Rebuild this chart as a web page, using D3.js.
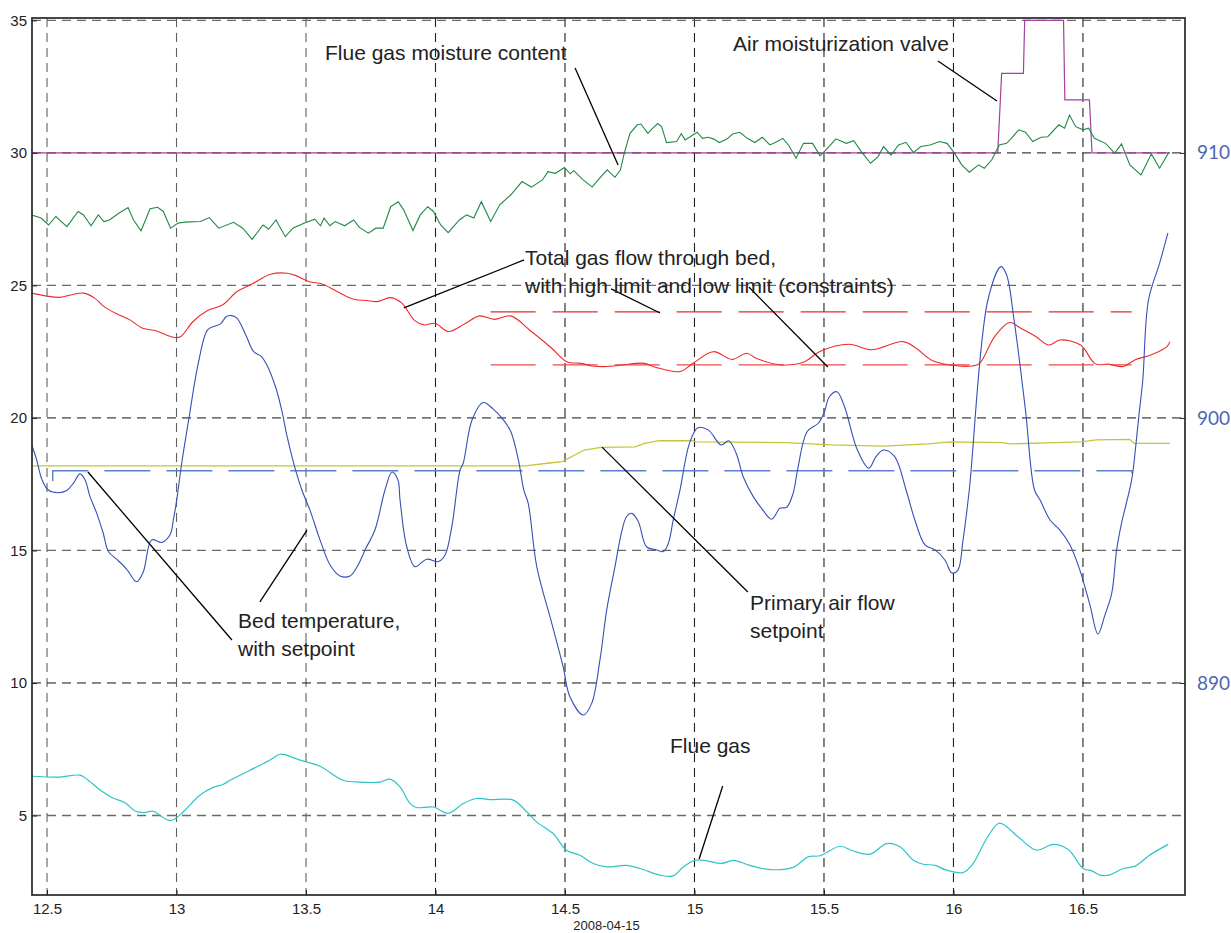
<!DOCTYPE html>
<html>
<head>
<meta charset="utf-8">
<script src="https://cdn.jsdelivr.net/npm/d3@7"></script>
<style>
  body { margin: 0; background: #fff; }
  svg { display: block; }
</style>
</head>
<body>
<div id="chart"></div>
<script>
// ---------------------------------------------------------------
// data (time in hours, 2008-04-15)
// ---------------------------------------------------------------
const xTicks = [12.5, 13, 13.5, 14, 14.5, 15, 15.5, 16, 16.5];
const leftTicks = [5, 10, 15, 20, 25, 30, 35];
const rightTicks = [890, 900, 910];
const dateLabel = "2008-04-15";

// flue gas moisture content (left axis)
const moistT = [12.441,12.477,12.506,12.534,12.577,12.620,12.641,12.670,12.698,12.720,12.741,12.777,12.813,12.834,12.863,12.898,12.927,12.949,12.977,13.006,13.034,13.092,13.127,13.163,13.220,13.256,13.292,13.334,13.356,13.384,13.420,13.449,13.492,13.534,13.556,13.570,13.592,13.613,13.649,13.684,13.706,13.741,13.770,13.798,13.827,13.856,13.877,13.913,13.941,13.970,13.992,14.020,14.049,14.092,14.120,14.148,14.177,14.213,14.248,14.291,14.334,14.370,14.413,14.434,14.463,14.498,14.520,14.534,14.570,14.605,14.634,14.663,14.693,14.714,14.729,14.751,14.779,14.793,14.820,14.837,14.858,14.873,14.892,14.931,14.949,14.964,14.988,15.010,15.031,15.053,15.075,15.096,15.125,15.147,15.175,15.204,15.233,15.262,15.291,15.312,15.341,15.363,15.392,15.421,15.456,15.485,15.514,15.546,15.586,15.615,15.644,15.680,15.709,15.730,15.759,15.788,15.817,15.845,15.874,15.910,15.946,15.975,16.004,16.032,16.061,16.097,16.119,16.148,16.177,16.205,16.227,16.252,16.278,16.306,16.338,16.364,16.407,16.429,16.448,16.472,16.501,16.522,16.544,16.587,16.623,16.649,16.681,16.724,16.764,16.796,16.832];
const moistV = [27.66,27.54,27.28,27.60,27.22,27.79,27.66,27.25,27.66,27.41,27.47,27.72,27.94,27.47,27.06,27.89,27.95,27.79,27.16,27.35,27.39,27.41,27.56,27.16,27.38,27.16,26.74,27.28,27.12,27.47,26.84,27.16,27.35,27.50,27.25,27.54,27.25,27.41,27.25,27.47,27.19,26.97,27.16,27.16,27.97,28.16,27.85,27.07,27.66,27.97,27.79,27.28,26.99,27.47,27.66,27.54,28.16,27.41,28.04,28.42,28.92,28.71,28.98,29.29,29.23,29.45,29.21,29.33,28.98,28.71,29.05,29.36,29.08,29.36,29.99,30.74,31.06,31.09,30.74,30.92,31.11,30.99,30.39,30.43,30.72,30.49,30.64,30.78,30.55,30.59,30.52,30.39,30.52,30.71,30.78,30.55,30.39,30.59,30.30,30.39,30.55,30.30,29.80,30.36,30.36,29.89,30.18,30.53,30.36,30.46,30.05,29.61,29.86,30.24,29.92,30.30,30.40,30.01,30.24,30.30,30.43,30.36,29.99,29.55,29.27,29.55,29.42,29.74,30.30,30.36,30.59,30.87,30.78,30.43,30.59,30.61,31.06,30.93,31.43,30.99,30.87,30.93,30.55,30.36,29.99,30.34,29.55,29.17,29.96,29.42,30.03];

// air moisturization valve (left axis, step signal)
const valveT = [12.441, 16.171, 16.186, 16.270, 16.275, 16.425, 16.430, 16.525, 16.535, 16.836];
const valveV = [30, 30, 33, 33, 35, 35, 32, 32, 30, 30];

// total gas flow through bed (left axis)
const flowT = [12.441,12.498,12.548,12.591,12.641,12.684,12.720,12.777,12.820,12.870,12.920,12.977,13.013,13.063,13.120,13.177,13.234,13.291,13.363,13.427,13.463,13.513,13.563,13.620,13.684,13.734,13.777,13.827,13.870,13.920,13.956,13.999,14.049,14.113,14.170,14.227,14.291,14.363,14.449,14.506,14.563,14.606,14.663,14.721,14.807,14.850,14.944,14.994,15.073,15.145,15.202,15.238,15.338,15.425,15.482,15.597,15.683,15.805,15.856,15.914,15.986,16.072,16.101,16.159,16.217,16.260,16.318,16.368,16.411,16.491,16.548,16.599,16.656,16.700,16.764,16.824,16.836];
const flowV = [24.71,24.60,24.55,24.64,24.71,24.52,24.20,23.89,23.70,23.38,23.29,23.07,23.05,23.63,24.05,24.26,24.77,25.05,25.42,25.46,25.36,25.14,25.05,24.77,24.48,24.43,24.39,24.54,24.33,23.67,23.51,23.57,23.26,23.55,23.85,23.72,23.85,23.32,22.63,22.12,22.06,21.96,21.94,22.00,22.06,21.91,21.75,22.06,22.50,22.21,22.44,22.25,22.00,22.12,22.50,22.78,22.57,22.88,22.63,22.19,22.00,21.96,22.06,23.07,23.60,23.38,23.07,22.75,22.94,22.75,22.04,22.03,21.94,22.19,22.38,22.69,22.88];

// constraints on total gas flow
const limitT = [14.213, 16.688];
const highLimit = 24;
const lowLimit = 22;

// primary air flow setpoint (left axis)
const airT = [12.441, 14.346, 14.432, 14.489, 14.575, 14.639, 14.771, 14.807, 14.864, 14.994, 15.009, 15.355, 15.527, 15.729, 15.902, 15.988, 16.190, 16.219, 16.392, 16.493, 16.551, 16.681, 16.698, 16.836];
const airV = [18.19, 18.19, 18.29, 18.35, 18.79, 18.89, 18.91, 19.04, 19.14, 19.14, 19.10, 19.07, 18.98, 18.94, 19.02, 19.10, 19.07, 19.02, 19.07, 19.10, 19.17, 19.19, 19.04, 19.04];

// bed temperature (right axis)
const bedT = [12.441,12.460,12.480,12.505,12.544,12.576,12.602,12.627,12.647,12.666,12.692,12.717,12.737,12.769,12.808,12.846,12.872,12.904,12.943,12.975,12.988,13.001,13.020,13.049,13.084,13.120,13.149,13.170,13.192,13.213,13.234,13.270,13.298,13.327,13.349,13.384,13.406,13.427,13.456,13.484,13.515,13.554,13.593,13.631,13.670,13.701,13.728,13.766,13.805,13.832,13.855,13.863,13.889,13.921,13.966,14.011,14.037,14.063,14.095,14.107,14.141,14.184,14.220,14.263,14.291,14.320,14.341,14.358,14.391,14.449,14.493,14.519,14.571,14.603,14.635,14.661,14.693,14.719,14.738,14.758,14.783,14.815,14.854,14.880,14.899,14.918,14.944,14.981,15.013,15.053,15.103,15.132,15.161,15.188,15.227,15.259,15.298,15.330,15.356,15.381,15.398,15.435,15.478,15.500,15.521,15.550,15.579,15.629,15.673,15.701,15.730,15.773,15.817,15.851,15.890,15.929,15.967,15.994,16.017,16.037,16.061,16.133,16.184,16.205,16.234,16.278,16.313,16.334,16.373,16.411,16.450,16.488,16.527,16.558,16.585,16.611,16.630,16.649,16.688,16.705,16.717,16.731,16.753,16.796,16.828];
const bedV = [898.98,898.42,897.69,897.28,897.18,897.26,897.54,897.89,897.66,897.03,896.40,895.65,894.96,894.67,894.29,893.82,894.20,895.40,895.30,895.59,896.16,896.92,898.29,900.05,902.06,903.32,903.47,903.55,903.82,903.86,903.76,903.07,902.50,902.32,902.00,901.12,900.30,899.30,898.16,897.28,896.53,895.40,894.45,894.04,894.04,894.45,895.02,895.77,897.28,897.96,897.66,896.91,895.14,894.39,894.67,894.58,894.83,895.90,898.04,898.29,899.92,900.58,900.36,899.92,899.48,898.42,897.28,896.78,894.39,892.25,890.61,889.48,888.79,889.23,890.87,892.75,894.39,895.71,896.28,896.40,896.09,895.14,895.02,894.96,895.27,896.15,897.28,899.05,899.63,899.55,898.98,899.14,898.67,897.78,897.03,896.59,896.18,896.59,896.63,897.16,898.04,899.48,899.80,900.18,900.80,900.99,900.43,898.79,898.10,898.54,898.79,898.54,897.28,896.15,895.21,895.02,894.64,894.15,894.26,895.40,897.28,904.45,905.71,905.40,903.70,900.30,897.28,896.91,896.15,895.77,895.21,894.26,892.94,891.85,892.57,893.38,895.02,896.03,897.66,899.05,900.18,901.43,904.45,905.84,906.98];

// bed temperature setpoint (right axis)
const bedSpT = [12.522, 12.522, 16.688, 16.690];
const bedSpV = [897.62, 898.01, 898.01, 897.9];

// flue gas (left axis)
const flueT = [12.442,12.550,12.627,12.659,12.705,12.750,12.801,12.840,12.872,12.910,12.936,12.968,12.990,13.026,13.091,13.142,13.181,13.207,13.284,13.361,13.400,13.477,13.554,13.643,13.708,13.786,13.824,13.863,13.902,13.927,13.992,14.049,14.107,14.159,14.210,14.300,14.352,14.390,14.454,14.506,14.558,14.609,14.661,14.738,14.790,14.867,14.918,14.957,15.002,15.047,15.105,15.150,15.214,15.292,15.381,15.439,15.485,15.562,15.613,15.678,15.742,15.793,15.845,15.883,15.929,15.967,16.038,16.076,16.128,16.173,16.192,16.257,16.321,16.385,16.443,16.501,16.534,16.566,16.604,16.656,16.701,16.757,16.829];
const flueV = [6.48,6.45,6.52,6.33,5.96,5.68,5.48,5.17,5.11,5.16,5.01,4.82,4.85,5.14,5.77,6.06,6.18,6.33,6.71,7.09,7.31,7.09,6.86,6.33,6.26,6.26,6.37,6.08,5.45,5.30,5.32,5.08,5.45,5.64,5.60,5.58,5.14,4.76,4.32,3.69,3.50,3.19,3.06,3.12,3.00,2.75,2.72,3.06,3.31,3.29,3.19,3.31,3.12,2.96,3.04,3.44,3.48,3.84,3.66,3.54,3.94,3.82,3.31,3.16,3.12,2.96,2.85,3.19,4.13,4.70,4.67,4.13,3.69,3.91,3.72,3.00,2.91,2.75,2.76,3.00,3.09,3.50,3.91];

// annotation texts
const notes = [
  { lines: ["Flue gas moisture content"], x: 325, y: 60 },
  { lines: ["Air moisturization valve"], x: 733, y: 51 },
  { lines: ["Total gas flow through bed,", "with high limit and low limit (constraints)"], x: 525, y: 265 },
  { lines: ["Bed temperature,", "with setpoint"], x: 238, y: 628 },
  { lines: ["Primary air flow", "setpoint"], x: 750, y: 610 },
  { lines: ["Flue gas"], x: 670, y: 753 }
];

// leader lines, ends given as [time, left value]
const leaders = [
  [[14.539, 33.20], [14.705, 29.54]],
  [[15.940, 33.47], [16.168, 31.96]],
  [[14.342, 25.96], [13.878, 24.15]],
  [[14.678, 24.87], [14.867, 23.96]],
  [[15.210, 24.94], [15.515, 21.92]],
  [[12.658, 17.96], [13.214, 11.62]],
  [[13.322, 13.06], [13.504, 15.77]],
  [[14.643, 18.90], [15.206, 13.43]],
  [[15.109, 6.11], [15.018, 3.36]]
];

// ---------------------------------------------------------------
const W = 1231, H = 933;
const plot = { left: 32, right: 1185, top: 18, bottom: 895 };
const font = "'Liberation Sans', Arial, sans-serif";

const x = d3.scaleLinear().domain([12.442, 16.894]).range([plot.left, plot.right]);
const yL = d3.scaleLinear().domain([2.0, 35.09]).range([plot.bottom, plot.top]);
const yR = d3.scaleLinear().domain([882.0, 915.09]).range([plot.bottom, plot.top]);

const svg = d3.select("#chart").append("svg")
  .attr("width", W).attr("height", H)
  .attr("font-family", font);

svg.append("rect").attr("width", W).attr("height", H).attr("fill", "#fff");

// grid: right-axis levels are drawn black, the others gray
const rightLevels = rightTicks.map(d => Math.round(yR(d)));
const grid = svg.append("g").attr("class", "grid");
grid.selectAll("line.gx").data(xTicks).enter().append("line")
  .attr("x1", d => x(d)).attr("x2", d => x(d))
  .attr("y1", plot.top).attr("y2", plot.bottom)
  .attr("stroke", d => d < 14 ? "#606060" : "#222").attr("stroke-width", 1.1)
  .attr("stroke-dasharray", "9,6");
grid.selectAll("line.gl").data(leftTicks.filter(d => !rightLevels.includes(Math.round(yL(d))))).enter().append("line")
  .attr("x1", plot.left).attr("x2", plot.right)
  .attr("y1", d => yL(d)).attr("y2", d => yL(d))
  .attr("stroke", "#6a6a6a").attr("stroke-width", 1.3)
  .attr("stroke-dasharray", "9,6");
grid.selectAll("line.gr").data(rightTicks).enter().append("line")
  .attr("x1", plot.left).attr("x2", plot.right)
  .attr("y1", d => yR(d)).attr("y2", d => yR(d))
  .attr("stroke", "#111").attr("stroke-width", 1)
  .attr("stroke-dasharray", "9,6");

// series
const zip = (t, v) => t.map((d, i) => [d, v[i]]);
const lineL = d3.line().x(d => x(d[0])).y(d => yL(d[1]));
const lineR = d3.line().x(d => x(d[0])).y(d => yR(d[1]));
const smoothL = d3.line().x(d => x(d[0])).y(d => yL(d[1])).curve(d3.curveCatmullRom.alpha(0.5));
const smoothR = d3.line().x(d => x(d[0])).y(d => yR(d[1])).curve(d3.curveCatmullRom.alpha(0.5));

const series = svg.append("g").attr("fill", "none");

series.append("path").attr("d", lineL(zip(limitT, [highLimit, highLimit])))
  .attr("stroke", "#e82a2a").attr("stroke-width", 1.1).attr("stroke-dasharray", "45,17");
series.append("path").attr("d", lineL(zip(limitT, [lowLimit, lowLimit])))
  .attr("stroke", "#ee4a4a").attr("stroke-width", 1.3).attr("stroke-dasharray", "45,17");
series.append("path").attr("d", lineR(zip(bedSpT, bedSpV)))
  .attr("stroke", "#5c7fcc").attr("stroke-width", 1.4).attr("stroke-dasharray", "46,16");

series.append("path").attr("d", lineL(zip(airT, airV)))
  .attr("stroke", "#c6c43a").attr("stroke-width", 1.3);
series.append("path").attr("d", lineL(zip(valveT, valveV)))
  .attr("stroke", "#a4409e").attr("stroke-width", 1.2);
series.append("path").attr("d", lineL(zip(moistT, moistV)))
  .attr("stroke", "#1f8a45").attr("stroke-width", 1.1);
series.append("path").attr("d", smoothL(zip(flowT, flowV)))
  .attr("stroke", "#f02a2a").attr("stroke-width", 1.1);
series.append("path").attr("d", smoothL(zip(flueT, flueV)))
  .attr("stroke", "#2ec4c8").attr("stroke-width", 1.2);
series.append("path").attr("d", smoothR(zip(bedT, bedV)))
  .attr("stroke", "#3551b5").attr("stroke-width", 1.1);

// frame
svg.append("rect")
  .attr("x", plot.left).attr("y", plot.top)
  .attr("width", plot.right - plot.left).attr("height", plot.bottom - plot.top)
  .attr("fill", "none").attr("stroke", "#333").attr("stroke-width", 1.8);

// axes
const axL = svg.append("g").attr("transform", `translate(${plot.left},0)`)
  .call(d3.axisLeft(yL).tickValues(leftTicks).tickSize(-5).tickPadding(5).tickFormat(d3.format("d")));
const axB = svg.append("g").attr("transform", `translate(0,${plot.bottom})`)
  .call(d3.axisBottom(x).tickValues(xTicks).tickSize(-5).tickPadding(8).tickFormat(d => String(d)));
const axR = svg.append("g").attr("transform", `translate(${plot.right},0)`)
  .call(d3.axisRight(yR).tickValues(rightTicks).tickSize(-5).tickPadding(12).tickFormat(d3.format("d")));

[axL, axB, axR].forEach(g => {
  g.select(".domain").remove();
  g.selectAll(".tick line").attr("stroke", "#222");
});
axL.selectAll("text").attr("font-size", 15).attr("fill", "#222").attr("font-family", font);
axB.selectAll("text").attr("font-size", 15).attr("fill", "#222").attr("font-family", font);
axR.selectAll("text").attr("font-size", 19).attr("fill", "#4d66b3").attr("font-family", "Lato, 'Open Sans', sans-serif");

svg.append("text")
  .attr("x", x(15) - 88).attr("y", 930)
  .attr("text-anchor", "middle").attr("font-size", 13).attr("fill", "#222")
  .text(dateLabel);

// annotations
const ann = svg.append("g");
leaders.forEach(([a, b]) => {
  ann.append("line")
    .attr("x1", x(a[0])).attr("y1", yL(a[1]))
    .attr("x2", x(b[0])).attr("y2", yL(b[1]))
    .attr("stroke", "#000").attr("stroke-width", 1.3);
});
notes.forEach(n => {
  const t = ann.append("text")
    .attr("x", n.x).attr("y", n.y)
    .attr("font-size", 21).attr("fill", "#222");
  n.lines.forEach((s, i) => {
    t.append("tspan").attr("x", n.x).attr("dy", i === 0 ? 0 : 28).text(s);
  });
});
</script>
</body>
</html>
